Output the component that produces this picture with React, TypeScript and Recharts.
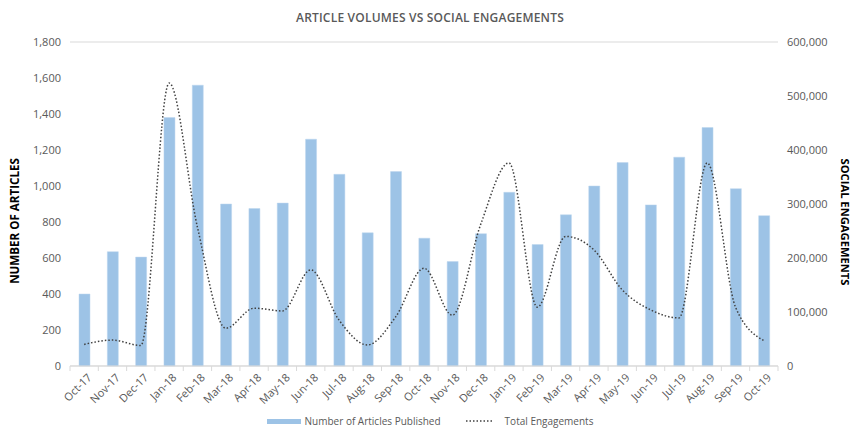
import { ComposedChart, Bar, Line, XAxis, YAxis, CartesianGrid } from 'recharts';

const months = [
  'Oct-17', 'Nov-17', 'Dec-17', 'Jan-18', 'Feb-18', 'Mar-18', 'Apr-18', 'May-18', 'Jun-18',
  'Jul-18', 'Aug-18', 'Sep-18', 'Oct-18', 'Nov-18', 'Dec-18', 'Jan-19', 'Feb-19', 'Mar-19',
  'Apr-19', 'May-19', 'Jun-19', 'Jul-19', 'Aug-19', 'Sep-19', 'Oct-19',
];

const articles = [
  400, 635, 605, 1380, 1560, 900, 875, 905, 1260, 1065, 740, 1080, 710,
  580, 735, 965, 675, 840, 1000, 1130, 895, 1160, 1325, 985, 835,
];

const engagements = [
  40000, 48000, 38000, 524000, 257000, 70000, 107000, 102000, 178000, 85000, 39000, 91000, 181000,
  94000, 262000, 376000, 109000, 240000, 215000, 141000, 104000, 89000, 376000, 109000, 47000,
];

const leftTicks = [0, 200, 400, 600, 800, 1000, 1200, 1400, 1600, 1800];
const rightTicks = [0, 100000, 200000, 300000, 400000, 500000, 600000];

const data = months.map((m, i) => ({ month: m, articles: articles[i], engagements: engagements[i] }));

const FONT = "'Open Sans', sans-serif";
const GREY = '#595959';
const BAND = 708 / months.length;

function MonthTick({ x, y, payload, index }: any) {
  return (
    <g>
      {index === 0 && <line x1={x - BAND / 2} x2={x - BAND / 2} y1={y} y2={y + 5} stroke="#d9d9d9" />}
      <line x1={x + BAND / 2} x2={x + BAND / 2} y1={y} y2={y + 5} stroke="#d9d9d9" />
      <text
        transform={`translate(${x + 5},${y + 9}) rotate(-45)`}
        textAnchor="end"
        dominantBaseline="central"
        fontSize={11}
        fill={GREY}
        fontFamily={FONT}
      >
        {payload.value}
      </text>
    </g>
  );
}

function ChartLegend() {
  return (
    <div
      style={{
        position: 'absolute', top: 414, left: 0, width: 860, display: 'flex', justifyContent: 'center',
        alignItems: 'center', fontFamily: FONT, fontSize: 10, color: GREY,
      }}
    >
      <span style={{ width: 34, height: 5, background: '#9dc3e6', display: 'inline-block', marginRight: 4 }} />
      <span style={{ marginRight: 25 }}>Number of Articles Published</span>
      <svg width={28} height={6} style={{ marginRight: 11 }}>
        <line x1={0} x2={28} y1={3} y2={3} stroke="#404040" strokeWidth={1.5} strokeDasharray="1.5 2" />
      </svg>
      <span>Total Engagements</span>
    </div>
  );
}

export default function App() {
  return (
    <div style={{ position: 'relative', width: 860, height: 442, background: '#fff' }}>
      <style>{'body{margin:0}'}</style>
      <div
        style={{
          position: 'absolute', top: 9, left: 0, width: 860, textAlign: 'center',
          fontFamily: FONT, fontWeight: 600, fontSize: 12, color: GREY, letterSpacing: 0.2,
        }}
      >
        ARTICLE VOLUMES VS SOCIAL ENGAGEMENTS
      </div>
      <div
        style={{
          position: 'absolute', left: 14, top: 221, transform: 'translate(-50%,-50%) rotate(-90deg)',
          whiteSpace: 'nowrap', fontFamily: FONT, fontWeight: 700, fontSize: 11.6, color: '#000',
        }}
      >
        NUMBER OF ARTICLES
      </div>
      <div
        style={{
          position: 'absolute', left: 845, top: 222, transform: 'translate(-50%,-50%) rotate(90deg)',
          whiteSpace: 'nowrap', fontFamily: FONT, fontWeight: 700, fontSize: 11.2, color: '#000',
        }}
      >
        SOCIAL ENGAGEMENTS
      </div>
      <ComposedChart
        width={860}
        height={442}
        data={data}
        margin={{ top: 42, right: 0, left: 0, bottom: 26 }}
      >
        <CartesianGrid vertical={false} stroke="#d9d9d9" />
        <XAxis
          dataKey="month"
          interval={0}
          tickLine={false}
          tickSize={0}
          tickMargin={0}
          height={50}
          stroke="#d9d9d9"
          tick={<MonthTick />}
        />
        <YAxis
          yAxisId="left"
          width={70}
          domain={[0, 1800]}
          ticks={leftTicks}
          axisLine={false}
          tickLine={false}
          tickMargin={9}
          tickSize={0}
          tick={{ fill: GREY, fontSize: 11, fontFamily: FONT }}
          tickFormatter={(v: number) => v.toLocaleString('en-US')}
        />
        <YAxis
          yAxisId="right"
          orientation="right"
          width={82}
          domain={[0, 600000]}
          ticks={rightTicks}
          axisLine={false}
          tickLine={false}
          tickMargin={9}
          tickSize={0}
          tick={{ fill: GREY, fontSize: 11, fontFamily: FONT }}
          tickFormatter={(v: number) => v.toLocaleString('en-US')}
        />
        <Bar
          yAxisId="left"
          dataKey="articles"
          name="Number of Articles Published"
          fill="#9dc3e6"
          stroke="#bdd7ee"
          strokeWidth={0.5}
          barSize={11}
          isAnimationActive={false}
        />
        <Line
          yAxisId="right"
          dataKey="engagements"
          name="Total Engagements"
          type="monotone"
          stroke="#404040"
          strokeWidth={1.5}
          strokeDasharray="1.5 2"
          dot={false}
          isAnimationActive={false}
        />
      </ComposedChart>
      <ChartLegend />
    </div>
  );
}
